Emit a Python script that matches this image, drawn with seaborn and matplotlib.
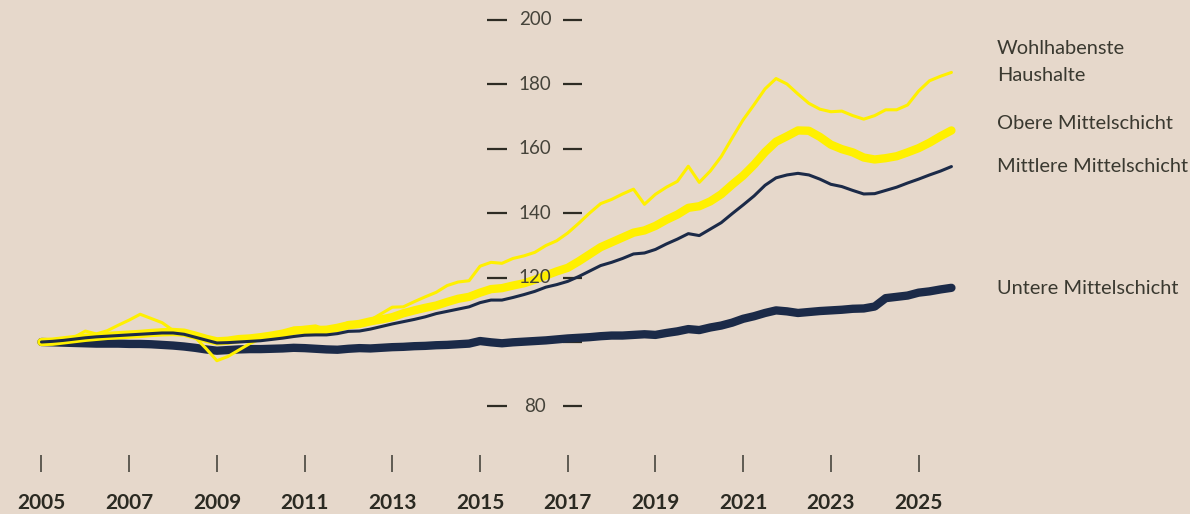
import matplotlib
matplotlib.use("Agg")
import matplotlib.pyplot as plt
import numpy as np
import pandas as pd
import seaborn as sns

# ---------------- data (quarterly index, 2005Q1 = 100) ----------------
quarters = pd.period_range("2005Q1", "2025Q4", freq="Q")

wohlhabenste = [
    99.5, 99.6, 100.2, 101.5, 103.4, 102.5, 103.5, 105.2, 106.8, 108.6,
    107.3, 106.0, 103.6, 103.1, 101.5, 98.0, 94.2, 95.5, 97.5, 99.5,
    101.0, 101.5, 103.0, 104.3, 104.6, 105.0, 103.8, 104.5, 106.1, 106.0,
    106.8, 108.8, 110.8, 110.9, 112.5, 114.0, 115.4, 117.5, 118.6, 119.0,
    123.5, 124.7, 124.4, 125.9, 126.7, 127.8, 129.9, 131.4, 133.8, 136.8,
    140.0, 142.9, 144.2, 145.9, 147.4, 142.7, 145.8, 148.0, 149.8, 154.5,
    149.5, 153.0, 157.5, 163.3, 168.9, 173.6, 178.5, 181.7, 180.0, 176.9,
    174.0, 172.2, 171.4, 171.6, 170.2, 169.1, 170.2, 172.0, 172.0, 173.5,
    177.8, 181.0, 182.4, 183.6,
]
obere = [
    100.0, 100.1, 100.5, 100.9, 101.3, 101.6, 101.9, 102.1, 102.3, 102.5,
    102.8, 103.0, 103.1, 102.9, 102.0, 101.0, 100.2, 100.4, 100.9, 101.1,
    101.5, 102.0, 102.6, 103.5, 103.7, 103.7, 103.8, 104.4, 105.2, 105.6,
    106.4, 107.0, 107.7, 108.9, 109.8, 110.6, 111.3, 112.4, 113.4, 114.0,
    115.3, 116.4, 116.7, 117.5, 118.2, 119.3, 120.6, 121.9, 123.0, 125.0,
    127.2, 129.4, 130.9, 132.4, 133.9, 134.6, 136.0, 137.9, 139.5, 141.6,
    142.1, 143.6, 145.8, 148.8, 151.6, 155.0, 158.9, 162.1, 163.8, 165.6,
    165.5, 163.6, 161.2, 159.8, 158.8, 157.2, 156.6, 157.0, 157.6, 158.8,
    160.1, 161.8, 163.8, 165.6,
]
mittlere = [
    100.0, 100.2, 100.5, 100.9, 101.3, 101.6, 101.8, 102.0, 102.2, 102.4,
    102.6, 102.8, 102.8, 102.4, 101.5, 100.6, 99.7, 99.8, 100.0, 100.2,
    100.4, 100.8, 101.2, 101.7, 102.1, 102.2, 102.2, 102.6, 103.3, 103.4,
    104.0, 104.8, 105.6, 106.3, 107.0, 107.8, 108.8, 109.5, 110.2, 110.9,
    112.2, 113.0, 113.0, 113.8, 114.7, 115.7, 117.0, 117.8, 118.8, 120.3,
    122.0, 123.7, 124.7, 125.9, 127.3, 127.6, 128.7, 130.4, 131.9, 133.6,
    133.0, 135.0, 137.0, 139.8, 142.5, 145.3, 148.6, 150.9, 151.8, 152.3,
    151.8, 150.5, 148.9, 148.2, 147.0, 145.9, 146.0, 147.0, 148.0, 149.3,
    150.5, 151.8, 153.0, 154.4,
]
untere = [
    100.0, 99.9, 99.8, 99.7, 99.6, 99.5, 99.5, 99.5, 99.4, 99.4,
    99.3, 99.1, 98.9, 98.6, 98.2, 97.7, 97.3, 97.5, 97.7, 97.8,
    97.8, 97.9, 98.0, 98.2, 98.1, 97.9, 97.7, 97.6, 97.9, 98.1,
    98.0, 98.2, 98.4, 98.5, 98.7, 98.8, 99.0, 99.1, 99.3, 99.5,
    100.3, 99.9, 99.6, 99.9, 100.1, 100.3, 100.5, 100.8, 101.1, 101.3,
    101.5, 101.8, 102.0, 102.0, 102.2, 102.4, 102.2, 102.8, 103.3, 104.0,
    103.7, 104.5, 105.1, 106.0, 107.2, 108.0, 109.0, 109.8, 109.5, 109.0,
    109.3, 109.6, 109.8, 110.0, 110.3, 110.4, 111.0, 113.6, 114.0, 114.4,
    115.3, 115.7, 116.3, 116.8,
]

series_names = ["Untere Mittelschicht", "Obere Mittelschicht",
                "Wohlhabenste Haushalte", "Mittlere Mittelschicht"]
label_texts = ["Untere Mittelschicht", "Obere Mittelschicht",
               "Wohlhabenste\nHaushalte", "Mittlere Mittelschicht"]
label_y = [116.5, 167.6, 186.8, 154.4]

year_ticks = [2005, 2007, 2009, 2011, 2013, 2015, 2017, 2019, 2021, 2023, 2025]
y_ticks = [80, 100, 120, 140, 160, 180, 200]
y_tick_labels = ["80", "", "120", "140", "160", "180", "200"]

# ---------------- styling ----------------
bg = "#e6d8cb"
navy = "#1b2a48"
yellow = "#fff000"
text_col = "#3a3930"

colors = {"Untere Mittelschicht": navy, "Obere Mittelschicht": yellow,
          "Wohlhabenste Haushalte": yellow, "Mittlere Mittelschicht": navy}
widths = {"Untere Mittelschicht": 6.0, "Obere Mittelschicht": 6.0,
          "Wohlhabenste Haushalte": 2.2, "Mittlere Mittelschicht": 2.2}

sns.set_style("white")
plt.rcParams["font.family"] = ["Lato", "DejaVu Sans"]

t = quarters.year + (quarters.quarter - 1) / 4.0
df = pd.DataFrame({
    "t": np.tile(np.asarray(t), 4),
    "value": untere + obere + wohlhabenste + mittlere,
    "series": np.repeat(series_names, len(quarters)),
})

fig = plt.figure(figsize=(11.9, 5.14), dpi=100, facecolor=bg)
ax = fig.add_axes([0, 59 / 514, 1, 455 / 514])
ax.set_facecolor(bg)

# y-scale labels in the middle of the chart
ytr = ax.get_yaxis_transform()
ax.hlines(y_ticks, 487 / 1190, 507 / 1190, transform=ytr, color="#2e2c24", lw=1.6, zorder=1)
ax.hlines(y_ticks, 563 / 1190, 582 / 1190, transform=ytr, color="#2e2c24", lw=1.6, zorder=1)
for v, lab in zip(y_ticks, y_tick_labels):
    ax.text(535 / 1190, v, lab, transform=ytr, ha="center", va="center",
            fontsize=13.5, color="#45433a", zorder=10)

for z, name in enumerate(series_names):
    sub = df[df["series"] == name]
    sns.lineplot(data=sub, x="t", y="value", ax=ax, color=colors[name],
                 linewidth=widths[name], zorder=2 + z, legend=False,
                 solid_capstyle="round", solid_joinstyle="round")

for txt, yv in zip(label_texts, label_y):
    ax.text(997 / 1190, yv, txt, transform=ytr, ha="left", va="center",
            fontsize=14.4, color=text_col, linespacing=1.75)

ax.set_xlim(2004.054, 2031.19)
ax.set_ylim(64.96, 206.05)
ax.set_xticks(year_ticks)
ax.set_xticklabels([str(y) for y in year_ticks], fontweight="bold")
ax.set_yticks([])
ax.tick_params(axis="x", direction="out", length=12.2, width=1.1,
               color="#3b3a32", labelsize=15, labelcolor="#2b2a22", pad=15, bottom=True)
ax.set_xlabel("")
ax.set_ylabel("")
for s in ax.spines.values():
    s.set_visible(False)

fig.savefig("out.png", dpi=100, facecolor=bg)
